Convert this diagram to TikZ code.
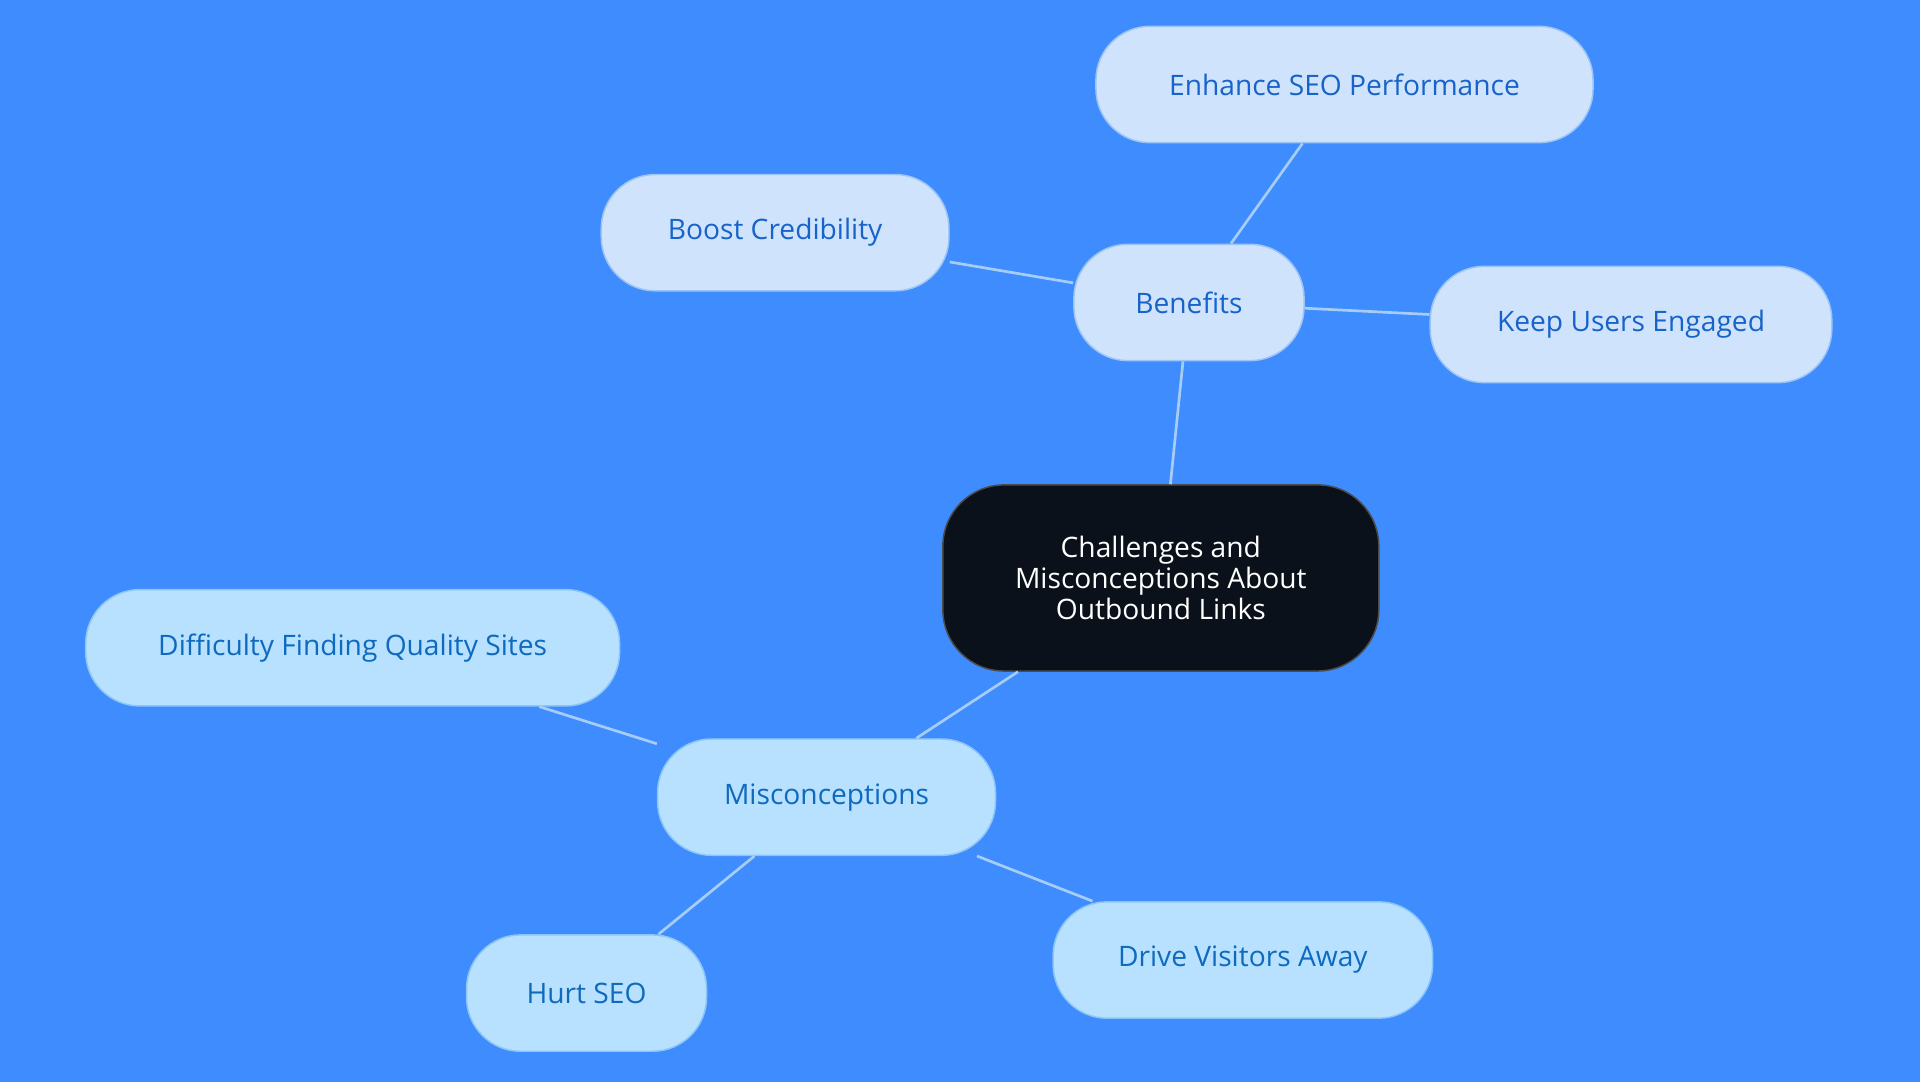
\documentclass[tikz,border=0pt]{standalone}
\usepackage{fontspec}
\setmainfont{Open Sans}
\definecolor{bg}{HTML}{3F8CFF}
\definecolor{rootfill}{HTML}{0B111A}
\definecolor{benfill}{HTML}{CFE3FC}
\definecolor{benline}{HTML}{9CC4F6}
\definecolor{bentext}{HTML}{1763C9}
\definecolor{misfill}{HTML}{B8E0FF}
\definecolor{misline}{HTML}{8CC6F7}
\definecolor{mistext}{HTML}{0E6ABE}
\definecolor{edge}{HTML}{A6CDF6}
\tikzset{
  pill/.style={rounded corners=44pt, minimum height=95pt, inner sep=0pt, line width=1.2pt, align=center,
    font=\fontsize{23}{28}\selectfont},
  ben/.style={pill, fill=benfill, draw=benline, text=bentext},
  mis/.style={pill, fill=misfill, draw=misline, text=mistext},
  link/.style={draw=edge, line width=2.2pt}
}
\begin{document}
\begin{tikzpicture}[x=1pt,y=1pt,yscale=-1]
\fill[bg] (0,0) rectangle (1568,884);
\useasboundingbox (0,0) rectangle (1568,884);

% Root
\node[pill, fill=rootfill, draw=black!70, text=white, minimum width=356pt, minimum height=152pt, rounded corners=50pt] (root) at (948,472) {Challenges and\\[-3pt]Misconceptions About\\[-3pt]Outbound Links};

% Benefits
\node[ben, minimum width=188pt] (benefits) at (971,247) {Benefits};
\node[ben, minimum width=406pt] (seo) at (1098,69) {Enhance SEO Performance};
\node[ben, minimum width=284pt] (cred) at (633,190) {Boost Credibility};
\node[ben, minimum width=328pt] (users) at (1332,265) {Keep Users Engaged};

% Misconceptions
\node[mis, minimum width=276pt] (miscon) at (675,651) {Misconceptions};
\node[mis, minimum width=436pt] (quality) at (288,529) {Difficulty Finding Quality Sites};
\node[mis, minimum width=196pt] (hurt) at (479,811) {Hurt SEO};
\node[mis, minimum width=310pt] (away) at (1015,784) {Drive Visitors Away};

\begin{scope}[on background layer/.try]
\end{scope}
\path[link] (root) -- (benefits);
\path[link] (benefits) -- (seo);
\path[link] (benefits) -- (cred);
\path[link] (benefits) -- (users);
\path[link] (root) -- (miscon);
\path[link] (miscon) -- (quality);
\path[link] (miscon) -- (hurt);
\path[link] (miscon) -- (away);
\end{tikzpicture}
\end{document}
